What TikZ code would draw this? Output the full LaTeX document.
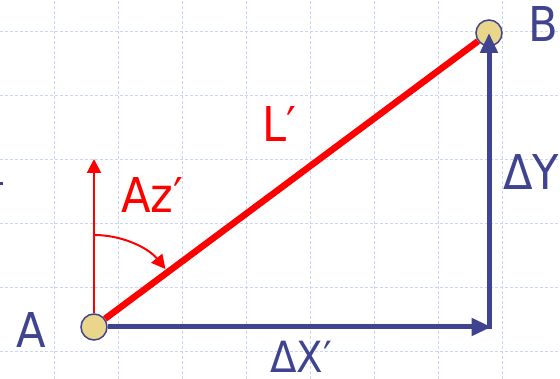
\documentclass[tikz,border=0pt]{standalone}
\usepackage{fontspec}
\setmainfont[FakeStretch=0.9]{DejaVu Sans}
\usepackage{xcolor}
\usetikzlibrary{positioning,arrows.meta}
\definecolor{gridblue}{HTML}{C8D5F5}
\definecolor{lineblue}{HTML}{3F4390}
\definecolor{linered}{HTML}{FF0000}
\definecolor{pointfill}{HTML}{EAD68A}

\begin{document}
\begin{tikzpicture}[x=1pt, y=1pt,
  gridline/.style={draw=gridblue, line width=1pt, dash pattern=on 3pt off 2pt},
  point/.style={circle, fill=pointfill, draw=lineblue, line width=1.5pt, minimum size=26pt, inner sep=0pt},
  bluearrow/.style={-{Triangle[length=20pt,width=17pt]}, line width=5pt, color=lineblue},
  redarrow/.style={-{Triangle[length=14pt,width=14pt]}, line width=2pt, color=linered},
  lbl/.style={anchor=base west, inner sep=0pt, font=\fontsize{48}{48}\selectfont}]
\useasboundingbox (0,0) rectangle (560,379);
% grid
\foreach \x in {54,118,...,502} \draw[gridline] (\x,0) -- (\x,379);
\foreach \y in {27,91,...,347} \draw[gridline] (0,\y) -- (560,\y);
\fill[lineblue] (0,194) rectangle (2.5,197);
% points
\node[point] (A) at (94,52) {};
\node[point] (B) at (489,346) {};
\coordinate (C) at (489,52);
\coordinate (N) at (94,220);
% lines
\draw[line width=6.5pt, color=linered] (A) -- (B);
\draw[redarrow] (A) -- (N);
\draw[redarrow] ([shift={(90:92)}]A.center) arc[start angle=90, end angle=39, radius=92];
\draw[bluearrow] (A) -- ([xshift=2.5pt]C);
\draw[bluearrow] ([yshift=-2.5pt]C) -- (B.center);
% labels
\node[lbl, text=lineblue] (labA) at (16,31) {A};
\node[lbl, text=lineblue] (labB) at (528,337) {B};
\node[lbl, text=linered] (labL) at (262,237) {L′};
\node[lbl, text=linered] (labAz) at (121,166) {Az′};
\node[lbl, text=lineblue] (labDY) at (503,189) {ΔY};
\node[lbl, text=lineblue, font=\fontsize{43}{43}\selectfont] (labDX) at (270,6) {ΔX′};
\end{tikzpicture}
\end{document}
